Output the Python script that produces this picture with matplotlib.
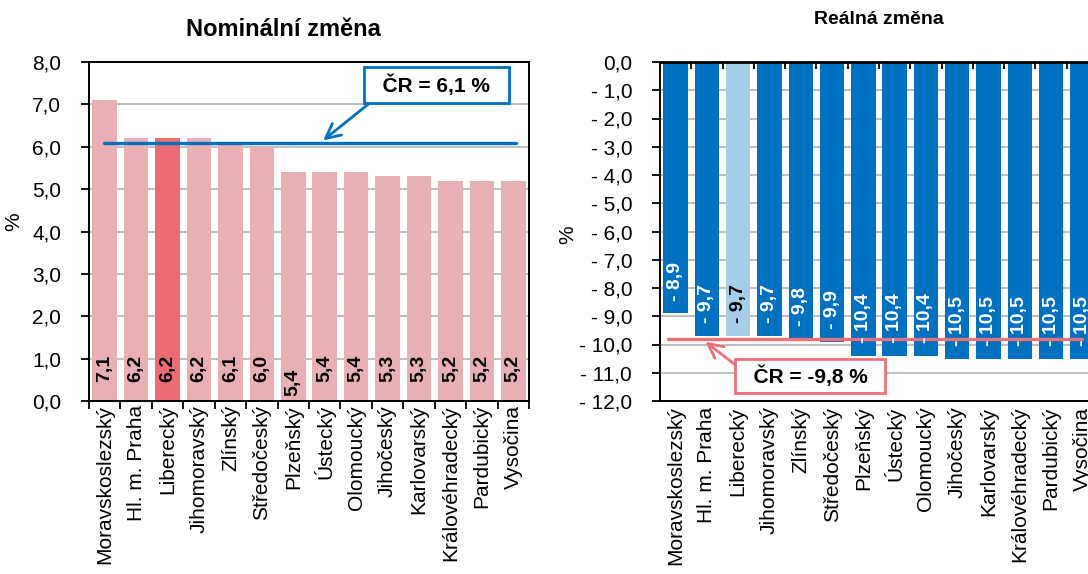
import matplotlib
matplotlib.use("Agg")
import matplotlib.pyplot as plt
import numpy as np

plt.rcParams['font.family'] = ['Liberation Sans', 'DejaVu Sans']

# data
regions = ["Moravskoslezský", "Hl. m. Praha", "Liberecký", "Jihomoravský", "Zlínský",
           "Středočeský", "Plzeňský", "Ústecký", "Olomoucký", "Jihočeský",
           "Karlovarský", "Královéhradecký", "Pardubický", "Vysočina"]
nominal = [7.1, 6.2, 6.2, 6.2, 6.1, 6.0, 5.4, 5.4, 5.4, 5.3, 5.3, 5.2, 5.2, 5.2]
real = [-8.9, -9.7, -9.7, -9.7, -9.8, -9.9, -10.4, -10.4, -10.4, -10.5, -10.5, -10.5, -10.5, -10.5]
cr_nominal = 6.1
cr_real = -9.8
highlight = 2  # Liberecký

pink = "#E8B0B4"
pink_hi = "#EA6C74"
blue = "#0070C0"
blue_hi = "#A6CEE8"
red_line = "#EC6F79"
grid_c = "#C0C0C0"


def fmt(v):
    s = "%.1f" % abs(v)
    s = s.replace(".", ",")
    if v < 0:
        s = "- " + s
    return s


fig = plt.figure(figsize=(10.88, 5.74), dpi=100)
ax1 = fig.add_axes([89 / 1088, 1 - 401 / 574, 440 / 1088, 339 / 574])
ax2 = fig.add_axes([660 / 1088, 1 - 401 / 574, 438 / 1088, 339 / 574])

x = np.arange(len(regions))

# ---------- nominal ----------
cols1 = [pink_hi if i == highlight else pink for i in x]
ax1.bar(x, nominal, width=0.78, color=cols1, zorder=2)
ax1.set_xlim(-0.5, len(regions) - 0.5)
ax1.set_ylim(0, 8)
ax1.set_yticks(np.arange(0, 8.1, 1))
ax1.set_yticklabels([fmt(v) for v in np.arange(0, 8.1, 1)])
ax1.grid(axis='y', color=grid_c, lw=1.5, zorder=0)
ax1.set_xticks(x)
ax1.set_xticklabels(regions, rotation=90)
ax1.set_xticks(np.arange(-0.5, len(regions), 1), minor=True)
ax1.tick_params(axis='x', which='major', length=0, pad=3, labelsize=15)
ax1.tick_params(axis='x', which='minor', length=6, width=1.3, direction='out')
ax1.tick_params(axis='y', length=6, width=1.3, labelsize=15, pad=14)
for s in ax1.spines.values():
    s.set_linewidth(1.4)
ax1.set_ylabel("%", fontsize=15)
ax1.yaxis.set_label_coords(-0.15, 0.53)
ax1.set_title("Nominální změna", fontsize=17, fontweight='bold', pad=19, x=0.441)

for i, v in enumerate(nominal):
    base = 0.12 if i == 6 else 0.45
    ax1.text(i, base, fmt(v), rotation=90, ha='center', va='bottom',
             fontsize=14, fontweight='bold', color='black', zorder=4)

ax1.plot([-0.02, len(regions) - 0.92], [cr_nominal, cr_nominal], color=blue, lw=2.4,
         solid_capstyle='round', zorder=3)
ax1.annotate("  ČR = " + fmt(cr_nominal) + " %  ", xy=(6.95, cr_nominal + 0.05),
             xytext=(10.55, 7.46), ha='center', va='center',
             fontsize=15, fontweight='bold', zorder=5,
             bbox=dict(boxstyle='square,pad=0.35', fc='white', ec=blue, lw=2),
             arrowprops=dict(arrowstyle='->,head_length=0.7,head_width=0.35', color=blue,
                             lw=2, relpos=(0.06, 0), shrinkA=0, shrinkB=0))

# ---------- real ----------
cols2 = [blue_hi if i == highlight else blue for i in x]
ax2.bar(x, real, width=0.78, color=cols2, zorder=2)
ax2.set_xlim(-0.5, len(regions) - 0.5)
ax2.set_ylim(-12, 0)
yt = np.arange(-12, 0.1, 1)
ax2.set_yticks(yt)
ax2.set_yticklabels([fmt(v) if v != 0 else "0,0" for v in yt])
ax2.grid(axis='y', color=grid_c, lw=1.5, zorder=0)
ax2.set_xticks(x)
ax2.set_xticklabels(regions, rotation=90)
ax2.set_xticks(np.arange(-0.5, len(regions), 1), minor=True)
ax2.tick_params(axis='x', which='major', length=0, pad=4, labelsize=15)
ax2.tick_params(axis='x', which='minor', bottom=False, top=True, length=5, width=1.3,
                direction='in')
ax2.tick_params(axis='y', length=6, width=1.3, labelsize=15, pad=14)
for s in ax2.spines.values():
    s.set_linewidth(1.4)
ax2.spines['top'].set_linewidth(2)
ax2.set_ylabel("%", fontsize=15)
ax2.yaxis.set_label_coords(-0.19, 0.49)
ax2.set_title("Reálná změna", fontsize=14, fontweight='bold', pad=27, x=0.5)

for i, v in enumerate(real):
    ax2.text(i, v + 0.45, fmt(v), rotation=90, ha='center', va='bottom',
             fontsize=14, fontweight='bold',
             color='black' if i == highlight else 'white', zorder=4)

ax2.plot([-0.24, len(regions) - 1], [cr_real, cr_real], color=red_line, lw=2.4,
         solid_capstyle='round', zorder=3)
ax2.annotate("  ČR = " + fmt(cr_real).replace("- ", "-") + " %  ", xy=(0.95, cr_real - 0.1),
             xytext=(4.3, -11.12), ha='center', va='center',
             fontsize=15, fontweight='bold', zorder=5,
             bbox=dict(boxstyle='square,pad=0.3', fc='white', ec=red_line, lw=2),
             arrowprops=dict(arrowstyle='->,head_length=0.7,head_width=0.35', color=red_line,
                             lw=2, relpos=(0, 0.8), shrinkA=0, shrinkB=0))

fig.savefig("out.png", dpi=100)
